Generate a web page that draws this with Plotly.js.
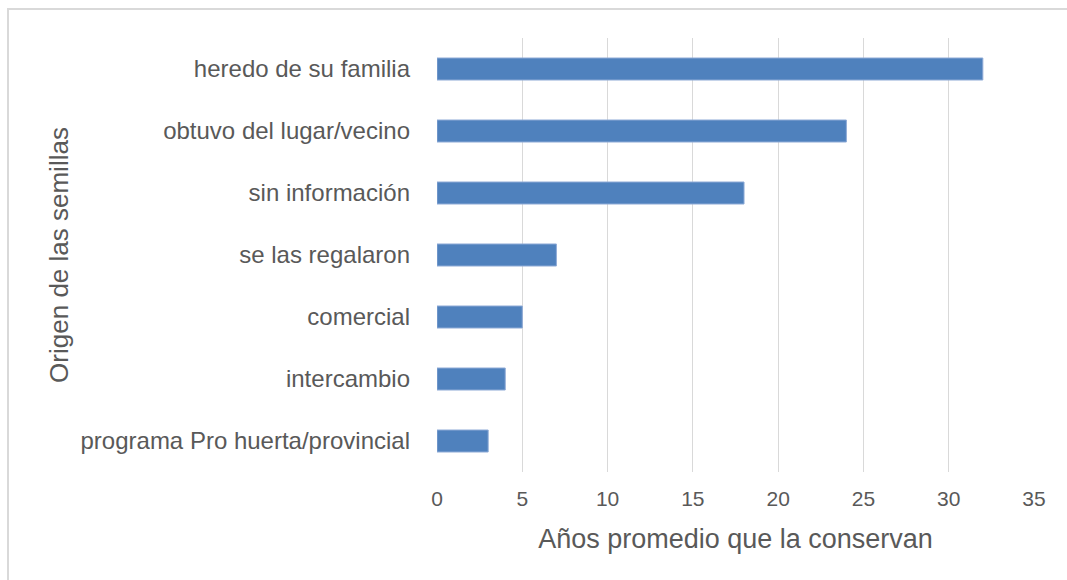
<!DOCTYPE html>
<html>
<head>
<meta charset="utf-8">
<script src="https://cdn.plot.ly/plotly-3.0.1.min.js"></script>
<style>
  html, body { margin: 0; padding: 0; background: #fff; }
  #frame { position: absolute; left: 7px; top: 8px; width: 1060px; height: 572px;
           border-top: 2px solid #d9d9d9; border-left: 2px solid #d9d9d9; box-sizing: border-box; }
  #chart { position: absolute; left: 0; top: 0; width: 1067px; height: 580px; }
</style>
</head>
<body>
<div id="frame"></div>
<div id="chart"></div>
<script>
const categories = [
  "heredo de su familia",
  "obtuvo del lugar/vecino",
  "sin información",
  "se las regalaron",
  "comercial",
  "intercambio",
  "programa Pro huerta/provincial"
];
const years = [32, 24, 18, 7, 5, 4, 3];
const xTicks = [0, 5, 10, 15, 20, 25, 30, 35];

const trace = {
  type: "bar",
  orientation: "h",
  y: categories,
  x: years,
  marker: { color: "#4f81bd", line: { color: "#8eaad6", width: 1 } },
  hoverinfo: "x+y"
};

const layout = {
  width: 1067,
  height: 580,
  paper_bgcolor: "rgba(0,0,0,0)",
  plot_bgcolor: "rgba(0,0,0,0)",
  margin: { l: 437, r: 33, t: 38, b: 108 },
  bargap: 0.645,
  showlegend: false,
  font: { family: "Liberation Sans, Arial, sans-serif", color: "#595959" },
  xaxis: {
    range: [0, 35],
    tickvals: xTicks,
    ticktext: xTicks.map(String),
    showgrid: true,
    gridcolor: "#d9d9d9",
    gridwidth: 1,
    zeroline: false,
    showline: false,
    ticks: "",
    tickfont: { size: 21, color: "#595959" },
    ticklabelstandoff: 12,
    title: { text: "Años promedio que la conservan", font: { size: 27, color: "#595959" }, standoff: 20 },
    automargin: false,
    fixedrange: true
  },
  yaxis: {
    type: "category",
    autorange: "reversed",
    showgrid: false,
    zeroline: false,
    showline: false,
    ticks: "",
    tickfont: { size: 24, color: "#595959" },
    ticklabelstandoff: 26,
    title: { text: "Origen de las semillas", font: { size: 26, color: "#595959" }, standoff: 4 },
    automargin: false,
    fixedrange: true
  }
};

Plotly.newPlot("chart", [trace], layout, { displayModeBar: false, staticPlot: true });
</script>
</body>
</html>
